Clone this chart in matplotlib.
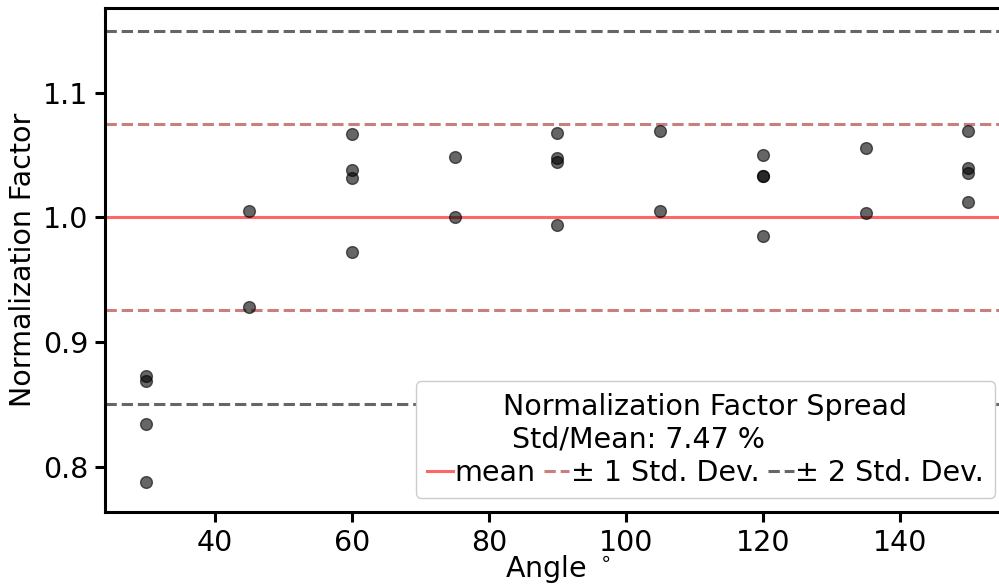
import matplotlib
matplotlib.use('Agg')
import matplotlib.pyplot as plt

# normalization factors, grouped by angle
angles = [30, 30, 30, 30,
          45, 45,
          60, 60, 60, 60,
          75, 75,
          90, 90, 90, 90,
          105, 105,
          120, 120, 120, 120,
          135, 135,
          150, 150, 150, 150]
factors = [0.8727, 0.8690, 0.8345, 0.7880,
           1.0051, 0.9283,
           1.0670, 1.0377, 1.0318, 0.9722,
           1.0481, 1.0001,
           1.0674, 1.0478, 1.0441, 0.9938,
           1.0694, 1.0048,
           1.0500, 1.0332, 1.0328, 0.9850,
           1.0553, 1.0037,
           1.0694, 1.0398, 1.0358, 1.0123]

mean_val = 1.0
std_pct = 7.47

fs = 20.5
plt.rcParams['font.size'] = fs

fig = plt.figure(figsize=(9.99, 5.88), dpi=100)
ax = fig.add_axes([0.1054, 0.1287, 0.9052, 0.8572])

ax.scatter(angles, factors, s=72, color='k', alpha=0.6, zorder=3)

std = mean_val * std_pct / 100
ax.axhline(mean_val, color='r', alpha=0.6, lw=2.2, label='mean')
ax.axhline(mean_val + std, color='brown', alpha=0.6, lw=2.2, ls='--', label='± 1 Std. Dev.')
ax.axhline(mean_val - std, color='brown', alpha=0.6, lw=2.2, ls='--')
ax.axhline(mean_val + 2 * std, color='k', alpha=0.6, lw=2.2, ls='--', label='± 2 Std. Dev.')
ax.axhline(mean_val - 2 * std, color='k', alpha=0.6, lw=2.2, ls='--')

ax.set_xlim(24, 156)
ax.set_ylim(0.7634, 1.1676)
ax.set_xticks([40, 60, 80, 100, 120, 140])
ax.set_yticks([0.8, 0.9, 1.0, 1.1])

for sp in ax.spines.values():
    sp.set_linewidth(2.2)
ax.tick_params(length=7.2, width=2.2, labelsize=fs, pad=5)

ax.set_xlabel(r'Angle $^\circ$', fontsize=fs, labelpad=-3)
ax.set_ylabel('Normalization Factor', fontsize=fs)

leg = ax.legend(loc='lower right', ncol=3, fontsize=fs,
                title='Normalization Factor Spread\n Std/Mean: %.2f %%' % std_pct,
                title_fontsize=fs, handlelength=0.9, handletextpad=0.05,
                columnspacing=0.3, labelspacing=0.2, framealpha=1)
leg.set_zorder(5)

fig.savefig('out.png', dpi=100)
